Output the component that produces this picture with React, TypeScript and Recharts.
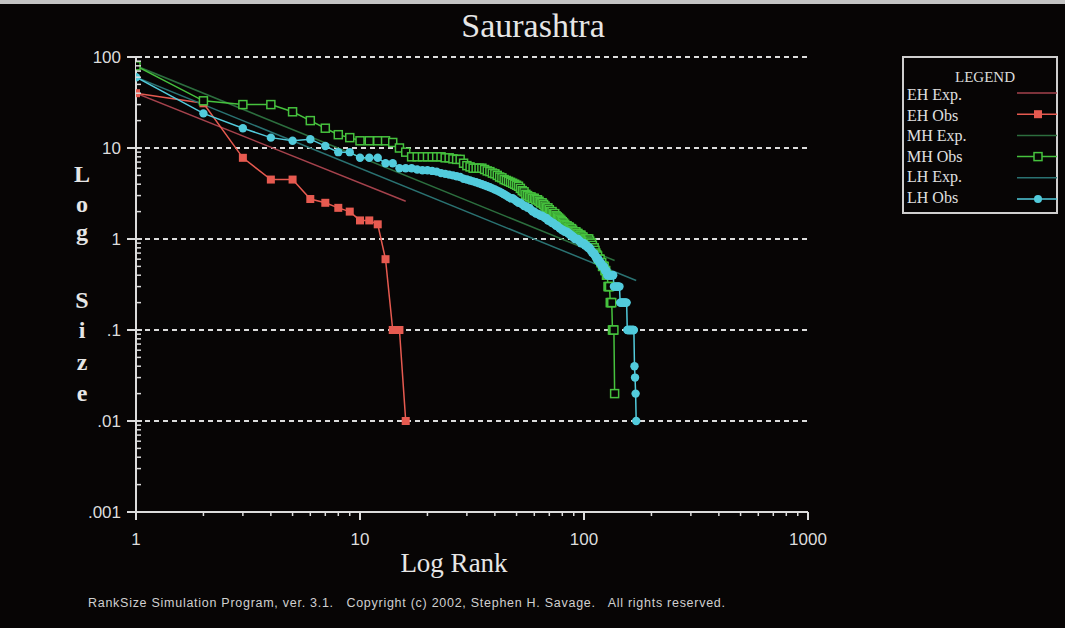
import React from "react";
import { LineChart, Line, XAxis, YAxis, ReferenceLine } from "recharts";

// --- data (rank = position in list + 1) ---
const ehObsSizes = [40, 31, 7.8, 4.5, 4.5, 2.75, 2.5, 2.2, 2.0, 1.6, 1.6, 1.45, 0.6, 0.1, 0.1, 0.01];

const mhObsSizes = [
  80, 33, 30, 30, 25, 20, 16.5, 14, 13, 12,
  12, 12, 12, 11.5, 10, 9, 8, 8, 8, 8,
  8, 8, 8, 7.8, 7.8, 7.6, 7.5, 7.5, 6.8, 6.4,
  6.2, 6, 6, 6, 6, 5.8, 5.6, 5.5, 5.3, 5.2,
  5, 4.8, 4.7, 4.5, 4.4, 4.3, 4.2, 4.1, 4, 3.9,
  3.8, 3.6, 3.4, 3.3, 3.1, 3, 2.9, 2.9, 2.8, 2.8,
  2.7, 2.7, 2.6, 2.5, 2.5, 2.4, 2.3, 2.2, 2.2, 2.1,
  2, 2, 1.9, 1.9, 1.8, 1.75, 1.7, 1.65, 1.6, 1.55,
  1.5, 1.45, 1.4, 1.4, 1.35, 1.35, 1.3, 1.3, 1.25, 1.2,
  1.2, 1.2, 1.15, 1.15, 1.1, 1.1, 1.1, 1.05, 1.05, 1,
  1, 1, 1, 1, 1, 0.95, 0.9, 0.9, 0.85, 0.8,
  0.8, 0.75, 0.7, 0.67, 0.65, 0.6, 0.6, 0.6, 0.55, 0.55,
  0.5, 0.5, 0.5, 0.45, 0.45, 0.4, 0.4, 0.3, 0.3, 0.3,
  0.2, 0.2, 0.2, 0.1, 0.1, 0.1, 0.02,
];

const lhObsSizes = [
  60, 24, 16.5, 13, 12, 12.5, 10.5, 9, 9, 7.8,
  7.8, 7.8, 6.8, 6.8, 6, 6, 6, 5.8, 5.7, 5.7,
  5.6, 5.5, 5.3, 5.2, 5.1, 5, 4.9, 4.8, 4.6, 4.5,
  4.4, 4.3, 4.2, 4.1, 4, 3.9, 3.8, 3.7, 3.6, 3.5,
  3.4, 3.3, 3.2, 3.1, 3, 2.9, 2.8, 2.8, 2.7, 2.6,
  2.5, 2.5, 2.4, 2.3, 2.3, 2.2, 2.2, 2.1, 2, 2,
  1.9, 1.9, 1.85, 1.8, 1.8, 1.75, 1.7, 1.7, 1.6, 1.6,
  1.55, 1.5, 1.5, 1.45, 1.4, 1.4, 1.35, 1.3, 1.3, 1.25,
  1.25, 1.2, 1.2, 1.2, 1.15, 1.15, 1.1, 1.1, 1.05, 1.05,
  1, 1, 1, 1, 0.95, 0.95, 0.9, 0.9, 0.9, 0.9,
  0.85, 0.85, 0.85, 0.8, 0.8, 0.8, 0.75, 0.75, 0.7, 0.7,
  0.7, 0.65, 0.65, 0.6, 0.6, 0.6, 0.55, 0.55, 0.55, 0.5,
  0.5, 0.5, 0.5, 0.45, 0.45, 0.45, 0.4, 0.4, 0.4, 0.4,
  0.4, 0.4, 0.4, 0.4, 0.4, 0.3, 0.3, 0.3, 0.3, 0.3,
  0.3, 0.3, 0.3, 0.3, 0.2, 0.2, 0.2, 0.2, 0.2, 0.2,
  0.2, 0.2, 0.2, 0.2, 0.2, 0.1, 0.1, 0.1, 0.1, 0.1,
  0.1, 0.1, 0.1, 0.1, 0.1, 0.1, 0.1, 0.04, 0.03, 0.02,
  0.01,
];

// expected (rank-size rule) lines: end points
const ehExpRanks = [1, 16];
const ehExpSizes = [40, 2.6];
const mhExpRanks = [1, 137];
const mhExpSizes = [80, 0.58];
const lhExpRanks = [1, 171];
const lhExpSizes = [60, 0.35];

const xMajor = [1, 10, 100, 1000];
const xMajorLabels = ["1", "10", "100", "1000"];
const yMajor = [0.001, 0.01, 0.1, 1, 10, 100];
const yMajorLabels = [".001", ".01", ".1", "1", "10", "100"];
const yGrid = [0.01, 0.1, 1, 10, 100];
const minorSteps = [2, 3, 4, 5, 6, 7, 8, 9];

const legendItems = ["EH Exp.", "EH Obs", "MH Exp.", "MH Obs", "LH Exp.", "LH Obs"];

const C = {
  bg: "#070505",
  fg: "#dcdcdc",
  ehExp: "#a5424c",
  ehObs: "#e65a50",
  mhExp: "#2c6e3e",
  mhObs: "#46c23e",
  lhExp: "#2a7272",
  lhObs: "#52cbdc",
};

const toRows = (sizes: number[]) => sizes.map((s, i) => ({ rank: i + 1, size: s }));
const pairRows = (ranks: number[], sizes: number[]) => ranks.map((r, i) => ({ rank: r, size: sizes[i] }));

const xMinor = xMajor.slice(0, 3).flatMap((d) => minorSteps.map((m) => d * m));
const yMinor = yMajor.slice(0, 5).flatMap((d) => minorSteps.map((m) => d * m));

const YTick = (props: any) => {
  const { x, y, payload } = props;
  const i = yMajor.indexOf(payload.value);
  if (i < 0) return <line x1={x} x2={x + 5} y1={y} y2={y} stroke={C.fg} strokeWidth={1.5} />;
  return (
    <g>
      <line x1={x - 9} x2={x + 6} y1={y} y2={y} stroke={C.fg} strokeWidth={2} />
      <text x={x - 15} y={y + 6} textAnchor="end" fill={C.fg} fontSize={17} fontFamily="Liberation Sans">
        {yMajorLabels[i]}
      </text>
    </g>
  );
};

const XTick = (props: any) => {
  const { x, y, payload } = props;
  const i = xMajor.indexOf(payload.value);
  if (i < 0) return <line x1={x} x2={x} y1={y} y2={y + 4} stroke={C.fg} strokeWidth={1.5} />;
  return (
    <g>
      <line x1={x} x2={x} y1={y} y2={y + 8} stroke={C.fg} strokeWidth={2} />
      <text x={x} y={y + 33} textAnchor="middle" fill={C.fg} fontSize={17} fontFamily="Liberation Sans">
        {xMajorLabels[i]}
      </text>
    </g>
  );
};

const squareDot = (fill: string, stroke: string) => (p: any) => (
  <rect key={`s${p.index}`} x={p.cx - 4} y={p.cy - 4} width={8} height={8} fill={fill} stroke={stroke} strokeWidth={1.5} />
);
const circleDot = (p: any) => <circle key={`c${p.index}`} cx={p.cx} cy={p.cy} r={4.2} fill={C.lhObs} />;

const legendLine = (i: number) => {
  const y = 93 + i * 21.2;
  const colors = [C.ehExp, C.ehObs, C.mhExp, C.mhObs, C.lhExp, C.lhObs];
  return (
    <g key={i}>
      <line x1={1017} x2={1057} y1={y} y2={y} stroke={colors[i]} strokeWidth={1.5} />
      {i === 1 && <rect x={1034} y={y - 4} width={8} height={8} fill={C.ehObs} />}
      {i === 3 && <rect x={1034} y={y - 4} width={8} height={8} fill={C.bg} stroke={C.mhObs} strokeWidth={1.5} />}
      {i === 5 && <circle cx={1038} cy={y} r={4} fill={C.lhObs} />}
    </g>
  );
};

const yLetters = [
  ["L", 182], ["o", 212], ["g", 240], ["S", 308], ["i", 338], ["z", 370], ["e", 401],
] as const;

export default function App() {
  return (
    <div
      style={{
        position: "absolute", left: 0, top: 0, width: 1065, height: 628, background: C.bg,
        boxSizing: "border-box", borderTop: "4px solid #c4c4c4", overflow: "hidden",
      }}
    >
      <div style={{ position: "absolute", left: 0, top: -4 }}>
        <LineChart width={1065} height={628} margin={{ top: 57, right: 257, bottom: 86, left: 76 }}>
          <XAxis
            dataKey="rank" type="number" scale="log" domain={[1, 1000]} allowDataOverflow
            ticks={[...xMajor, ...xMinor]} interval={0} tick={<XTick />} tickLine={false}
            tickSize={0} tickMargin={0} height={30} axisLine={{ stroke: C.fg, strokeWidth: 2 }}
          />
          <YAxis
            dataKey="size" type="number" scale="log" domain={[0.001, 100]} allowDataOverflow
            ticks={[...yMajor, ...yMinor]} interval={0} tick={<YTick />} tickLine={false}
            tickSize={0} tickMargin={0} width={60} axisLine={{ stroke: C.fg, strokeWidth: 2 }}
          />
          {yGrid.map((v) => (
            <ReferenceLine key={v} y={v} stroke={C.fg} strokeWidth={2} strokeDasharray="5 4" />
          ))}
          <Line data={pairRows(ehExpRanks, ehExpSizes)} dataKey="size" stroke={C.ehExp} strokeWidth={1.5} dot={false} isAnimationActive={false} />
          <Line data={toRows(ehObsSizes)} dataKey="size" stroke={C.ehObs} strokeWidth={1.5} dot={squareDot(C.ehObs, "none")} isAnimationActive={false} />
          <Line data={pairRows(mhExpRanks, mhExpSizes)} dataKey="size" stroke={C.mhExp} strokeWidth={1.5} dot={false} isAnimationActive={false} />
          <Line data={toRows(mhObsSizes)} dataKey="size" stroke={C.mhObs} strokeWidth={1.5} dot={squareDot(C.bg, C.mhObs)} isAnimationActive={false} />
          <Line data={pairRows(lhExpRanks, lhExpSizes)} dataKey="size" stroke={C.lhExp} strokeWidth={1.5} dot={false} isAnimationActive={false} />
          <Line data={toRows(lhObsSizes)} dataKey="size" stroke={C.lhObs} strokeWidth={1.5} dot={circleDot} isAnimationActive={false} />
        </LineChart>
      </div>
      <svg width={1065} height={628} style={{ position: "absolute", left: 0, top: -4, pointerEvents: "none" }}>
        <text x={533} y={37} textAnchor="middle" fill="#e6e6e6" fontSize={34} fontFamily="Liberation Serif">
          Saurashtra
        </text>
        {yLetters.map(([ch, y]) => (
          <text key={ch} x={82} y={y} textAnchor="middle" fill="#e6e6e6" fontSize={24} fontWeight="bold" fontFamily="Liberation Serif">
            {ch}
          </text>
        ))}
        <text x={454} y={572} textAnchor="middle" fill="#e6e6e6" fontSize={27} fontFamily="Liberation Serif">
          Log Rank
        </text>
        <text
          x={88} y={607} fill="#d0d0d0" fontSize={12.5} fontFamily="Liberation Sans Narrow, Liberation Sans"
          textLength={637} lengthAdjust="spacing" style={{ whiteSpace: "pre" }}
        >
          {"RankSize Simulation Program, ver. 3.1.   Copyright (c) 2002, Stephen H. Savage.   All rights reserved."}
        </text>
        <rect x={903} y={57} width={154} height={156} fill="none" stroke="#cfcfcf" strokeWidth={2} />
        <text x={985} y={82} textAnchor="middle" fill="#dcdcdc" fontSize={15} fontFamily="Liberation Serif">
          LEGEND
        </text>
        {legendItems.map((t, i) => (
          <text key={t} x={907} y={100 + i * 20.6} fill="#e0e0e0" fontSize={16} fontFamily="Liberation Serif">
            {t}
          </text>
        ))}
        {legendItems.map((_, i) => legendLine(i))}
      </svg>
    </div>
  );
}
